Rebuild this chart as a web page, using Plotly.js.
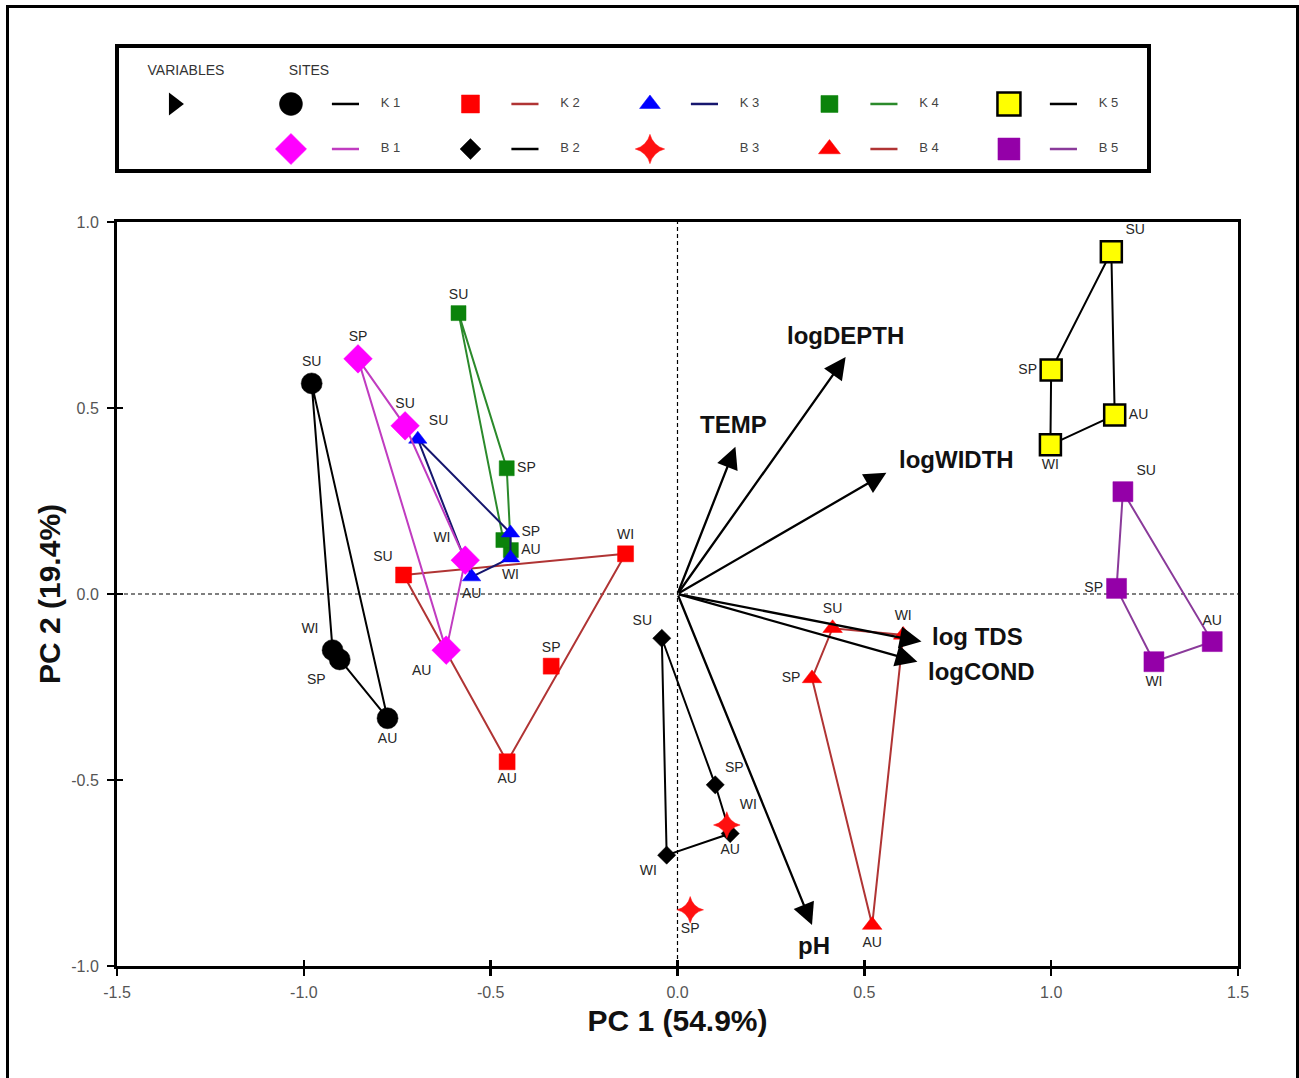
<!DOCTYPE html>
<html>
<head>
<meta charset="utf-8">
<script src="https://cdn.plot.ly/plotly-3.0.1.min.js"></script>
<style>
  html, body { margin: 0; padding: 0; overflow: hidden; background: #fff; }
  #chart { width: 1299px; height: 1078px; }
  #frame { position: absolute; left: 6px; top: 5px; width: 1287px; height: 1100px;
           border: 3px solid #000; border-bottom: none; pointer-events: none; }
</style>
</head>
<body>
<div id="chart"></div>
<div id="frame"></div>
<script>
// ---- PCA biplot data -------------------------------------------------------
const seasons = ['SU', 'SP', 'AU', 'WI'];
const siteNames = ['K1', 'K2', 'K3', 'K4', 'K5', 'B1', 'B2', 'B3', 'B4', 'B5'];

// site scores, one value per season in the order of `seasons` (null = not sampled)
const K1_pc1 = [-0.979, -0.904, -0.776, -0.923];
const K1_pc2 = [ 0.566, -0.176, -0.334, -0.151];
const K2_pc1 = [-0.733, -0.338, -0.456, -0.139];
const K2_pc2 = [ 0.051, -0.194, -0.451,  0.108];
const K3_pc1 = [-0.695, -0.447, -0.551, -0.447];
const K3_pc2 = [ 0.416,  0.164,  0.046,  0.097];
const K4_pc1 = [-0.586, -0.457, -0.446, -0.466];
const K4_pc2 = [ 0.755,  0.338,  0.118,  0.145];
const K5_pc1 = [ 1.161,  1.000,  1.170,  0.998];
const K5_pc2 = [ 0.920,  0.602,  0.481,  0.401];
const B1_pc1 = [-0.729, -0.855, -0.619, -0.568];
const B1_pc2 = [ 0.452,  0.632, -0.151,  0.091];
const B2_pc1 = [-0.042,  0.101,  0.141, -0.029];
const B2_pc2 = [-0.119, -0.513, -0.644, -0.702];
const B3_pc1 = [ null,   0.034,  null,   0.132];
const B3_pc2 = [ null,  -0.849,  null,  -0.621];
const B4_pc1 = [ 0.415,  0.360,  0.521,  0.604];
const B4_pc2 = [-0.092, -0.227, -0.890, -0.110];
const B5_pc1 = [ 1.192,  1.175,  1.431,  1.275];
const B5_pc2 = [ 0.275,  0.015, -0.128, -0.182];

// variable loadings (arrow tips)
const varNames = ['logDEPTH', 'TEMP', 'logWIDTH', 'log TDS', 'logCOND', 'pH'];
const var_pc1 = [0.450, 0.155, 0.559, 0.653, 0.642, 0.360];
const var_pc2 = [0.637, 0.396, 0.326, -0.128, -0.182, -0.890];

// axis ticks
const xTickVals = [-1.5, -1.0, -0.5, 0.0, 0.5, 1.0, 1.5];
const xTickText = ['-1.5', '-1.0', '-0.5', '0.0', '0.5', '1.0', '1.5'];
const yTickVals = [-1.0, -0.5, 0.0, 0.5, 1.0];
const yTickText = ['-1.0', '-0.5', '0.0', '0.5', '1.0'];

const xTitle = 'PC 1 (54.9%)';
const yTitle = 'PC 2 (19.4%)';
const legendHeaders = ['VARIABLES', 'SITES'];

// ---- styling ---------------------------------------------------------------
const scores = {
  K1: [K1_pc1, K1_pc2], K2: [K2_pc1, K2_pc2], K3: [K3_pc1, K3_pc2],
  K4: [K4_pc1, K4_pc2], K5: [K5_pc1, K5_pc2], B1: [B1_pc1, B1_pc2],
  B2: [B2_pc1, B2_pc2], B3: [B3_pc1, B3_pc2], B4: [B4_pc1, B4_pc2],
  B5: [B5_pc1, B5_pc2]
};

const siteStyle = {
  K1: { symbol: 'circle',       size: 21, color: '#000000', line: '#000000' },
  K2: { symbol: 'square',       size: 16, color: '#ff0000', line: '#b03434' },
  K3: { symbol: 'triangle-up',  size: 16, color: '#0000ff', line: '#16166e' },
  K4: { symbol: 'square',       size: 15, color: '#0b830b', line: '#2b8a2b' },
  K5: { symbol: 'square',       size: 21, color: '#ffff00', line: '#000000', outline: '#000000' },
  B1: { symbol: 'diamond',      size: 22, color: '#ff00ff', line: '#c03cc0' },
  B2: { symbol: 'diamond',      size: 14, color: '#000000', line: '#000000' },
  B3: { symbol: 'star-diamond', size: 19, color: '#ff1010', line: null },
  B4: { symbol: 'triangle-up',  size: 17, color: '#ff0000', line: '#b03434' },
  B5: { symbol: 'square',       size: 20, color: '#9400a8', line: '#8a3a9a' }
};

// where each season label sits around its marker (null = no label)
const labelPos = {
  K1: ['top center', 'bottom left', 'bottom center', 'top left'],
  K2: ['top left', 'top center', 'bottom center', 'top center'],
  K3: ['top right', 'middle right', 'bottom center', 'bottom center'],
  K4: ['top center', 'middle right', 'middle right', null],
  K5: ['top right', 'middle left', 'middle right', 'bottom center'],
  B1: ['top center', 'top center', 'bottom left', 'top left'],
  B2: ['top left', 'top right', 'bottom center', 'bottom left'],
  B3: [null, 'bottom center', null, 'top right'],
  B4: ['top center', 'middle left', 'bottom center', 'top center'],
  B5: ['top right', 'middle left', 'top center', 'bottom center']
};

// label placement relative to each arrow tip
const varLabelStyle = [
  { xanchor: 'center', yanchor: 'bottom', xshift: 0,  yshift: 6 },
  { xanchor: 'center', yanchor: 'bottom', xshift: -2, yshift: 7 },
  { xanchor: 'left',   yanchor: 'middle', xshift: 11, yshift: 13 },
  { xanchor: 'left',   yanchor: 'middle', xshift: 8,  yshift: 5 },
  { xanchor: 'left',   yanchor: 'middle', xshift: 9,  yshift: -10 },
  { xanchor: 'center', yanchor: 'top',    xshift: 2,  yshift: -5 }
];

const FONT = 'Liberation Sans, Arial, sans-serif';
const drawOrder = ['K1', 'K2', 'K4', 'K3', 'K5', 'B1', 'B2', 'B3', 'B4', 'B5'];

// convex hull (monotone chain), returned as a closed ring
function hull(pts) {
  const p = pts.slice().sort((a, b) => a[0] - b[0] || a[1] - b[1]);
  if (p.length < 3) return p;
  const cross = (o, a, b) => (a[0] - o[0]) * (b[1] - o[1]) - (a[1] - o[1]) * (b[0] - o[0]);
  const lower = [], upper = [];
  for (const q of p) {
    while (lower.length >= 2 && cross(lower[lower.length - 2], lower[lower.length - 1], q) <= 0) lower.pop();
    lower.push(q);
  }
  for (let i = p.length - 1; i >= 0; i--) {
    const q = p[i];
    while (upper.length >= 2 && cross(upper[upper.length - 2], upper[upper.length - 1], q) <= 0) upper.pop();
    upper.push(q);
  }
  upper.pop(); lower.pop();
  const ring = lower.concat(upper);
  ring.push(ring[0]);
  return ring;
}

const traces = [];

// site envelopes and points
drawOrder.forEach(name => {
  const [px, py] = scores[name];
  const st = siteStyle[name];
  const pts = [], xs = [], ys = [], txt = [], pos = [];
  px.forEach((v, i) => {
    if (v === null || py[i] === null) return;
    pts.push([v, py[i]]);
    xs.push(v); ys.push(py[i]);
    const lp = labelPos[name][i];
    txt.push(lp ? seasons[i] : '');
    pos.push(lp || 'top center');
  });
  if (st.line && pts.length > 2) {
    const ring = hull(pts);
    traces.push({
      type: 'scatter', mode: 'lines', hoverinfo: 'skip',
      x: ring.map(r => r[0]), y: ring.map(r => r[1]),
      line: { color: st.line, width: 2 }
    });
  }
  traces.push({
    type: 'scatter', mode: 'markers+text', name: name,
    x: xs, y: ys, text: txt, textposition: pos,
    textfont: { family: FONT, size: 14, color: '#262626' },
    marker: {
      symbol: st.symbol, size: st.size, color: st.color,
      line: { color: st.outline || st.color, width: st.outline ? 2.5 : 0.5 }
    }
  });
});

// second pair of axes carries the inner half of the crossing ticks
traces.push({ type: 'scatter', x: [], y: [], xaxis: 'x3', yaxis: 'y3', hoverinfo: 'skip' });

// ---- legend panel (its own small subplot) ---------------------------------
const LX = { mark: 0, line0: 0.228, line1: 0.379, label: 0.555, varMark: -0.652,
             varHead: -0.585, siteHead: 0.10, headY: 0.72 };
siteNames.forEach((name, i) => {
  const col = i % 5, row = Math.floor(i / 5);
  const st = siteStyle[name];
  if (st.line) {
    traces.push({
      type: 'scatter', mode: 'lines', xaxis: 'x2', yaxis: 'y2', hoverinfo: 'skip',
      x: [col + LX.line0, col + LX.line1], y: [-row, -row],
      line: { color: st.line, width: 2.5 }
    });
  }
  traces.push({
    type: 'scatter', mode: 'markers', xaxis: 'x2', yaxis: 'y2', hoverinfo: 'skip',
    x: [col + LX.mark], y: [-row],
    marker: {
      symbol: st.symbol, size: st.size + 2, color: st.color,
      line: { color: st.outline || st.color, width: st.outline ? 2.5 : 0.5 }
    }
  });
  traces.push({
    type: 'scatter', mode: 'text', xaxis: 'x2', yaxis: 'y2', hoverinfo: 'skip',
    x: [col + LX.label], y: [-row], text: [name.split('').join(' ')],
    textposition: 'middle center',
    textfont: { family: FONT, size: 13, color: '#444' }
  });
});
traces.push({
  type: 'scatter', mode: 'markers', xaxis: 'x2', yaxis: 'y2', hoverinfo: 'skip',
  x: [LX.varMark], y: [0],
  marker: { symbol: 'triangle-right', size: 20, color: '#000' }
});
traces.push({
  type: 'scatter', mode: 'text', xaxis: 'x2', yaxis: 'y2', hoverinfo: 'skip',
  x: [LX.varHead, LX.siteHead], y: [LX.headY, LX.headY], text: legendHeaders,
  textposition: 'middle center',
  textfont: { family: FONT, size: 14, color: '#333' }
});

// ---- variable arrows -------------------------------------------------------
const annotations = [];
varNames.forEach((v, i) => {
  annotations.push({
    x: var_pc1[i], y: var_pc2[i], xref: 'x', yref: 'y',
    ax: 0, ay: 0, axref: 'x', ayref: 'y',
    text: '', showarrow: true, arrowhead: 2, arrowsize: 1.9, arrowwidth: 2.3,
    arrowcolor: '#000', standoff: 0
  });
  const ls = varLabelStyle[i];
  annotations.push({
    x: var_pc1[i], y: var_pc2[i], xref: 'x', yref: 'y',
    text: v, showarrow: false,
    xanchor: ls.xanchor, yanchor: ls.yanchor, xshift: ls.xshift, yshift: ls.yshift,
    font: { family: FONT, size: 24, color: '#111', weight: 700 }
  });
});

const mainYDomain = [0, 0.8035];
const axisCommon = {
  showgrid: false, zeroline: false, showline: true, linewidth: 3, linecolor: '#000',
  mirror: true, ticks: 'outside', ticklen: 7, tickwidth: 2.5, tickcolor: '#000',
  tickfont: { family: FONT, size: 16, color: '#555' }, fixedrange: true
};

const layout = {
  width: 1299, height: 1078,
  margin: { l: 117, r: 61, t: 40, b: 112 },
  paper_bgcolor: '#fff', plot_bgcolor: '#fff',
  showlegend: false,
  font: { family: FONT },
  xaxis: Object.assign({}, axisCommon, {
    domain: [0, 1], anchor: 'y', range: [-1.5, 1.5],
    tickmode: 'array', tickvals: xTickVals, ticktext: xTickText,
    ticklabelstandoff: 3,
    title: { text: xTitle, standoff: 10,
             font: { family: FONT, size: 30, color: '#111', weight: 700 } }
  }),
  yaxis: Object.assign({}, axisCommon, {
    domain: mainYDomain, anchor: 'x', range: [-1, 1],
    tickmode: 'array', tickvals: yTickVals, ticktext: yTickText,
    ticklabelstandoff: 5,
    title: { text: yTitle, standoff: 2,
             font: { family: FONT, size: 30, color: '#111', weight: 700 } }
  }),
  xaxis3: {
    overlaying: 'x', anchor: 'y3', range: [-1.5, 1.5], side: 'bottom',
    tickmode: 'array', tickvals: xTickVals, ticks: 'inside', ticklen: 6, tickwidth: 2.5,
    tickcolor: '#000', showticklabels: false, showline: false, showgrid: false,
    zeroline: false, fixedrange: true
  },
  yaxis3: {
    overlaying: 'y', anchor: 'x3', range: [-1, 1], side: 'left',
    tickmode: 'array', tickvals: yTickVals, ticks: 'inside', ticklen: 6, tickwidth: 2.5,
    tickcolor: '#000', showticklabels: false, showline: false, showgrid: false,
    zeroline: false, fixedrange: true
  },
  xaxis2: {
    domain: [0.0018, 0.9188], anchor: 'y2', range: [-0.958, 4.769],
    showline: true, linewidth: 4, linecolor: '#000', mirror: true,
    showgrid: false, zeroline: false, showticklabels: false, ticks: '', fixedrange: true
  },
  yaxis2: {
    domain: [0.8607, 0.9914], anchor: 'x2', range: [-1.444, 1.244],
    showline: true, linewidth: 4, linecolor: '#000', mirror: true,
    showgrid: false, zeroline: false, showticklabels: false, ticks: '', fixedrange: true
  },
  shapes: [
    { type: 'line', xref: 'x', yref: 'y domain', x0: 0, x1: 0, y0: 0, y1: 1,
      layer: 'below', line: { color: '#000', width: 1.2, dash: '4px,3px' } },
    { type: 'line', xref: 'x domain', yref: 'y', x0: 0, x1: 1, y0: 0, y1: 0,
      layer: 'below', line: { color: '#000', width: 1.2, dash: '4px,3px' } }
  ],
  annotations: annotations
};

Plotly.newPlot('chart', traces, layout, { displayModeBar: false, staticPlot: true });
</script>
</body>
</html>
